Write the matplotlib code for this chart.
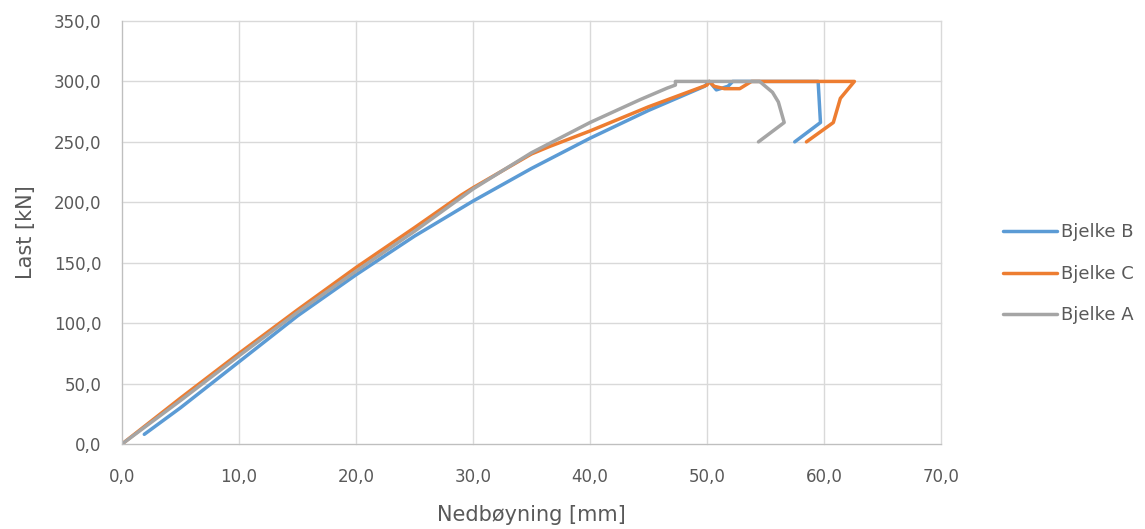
import matplotlib
matplotlib.use("Agg")
import matplotlib.pyplot as plt
from matplotlib.ticker import FuncFormatter, MultipleLocator

# Bjelke B (blue)
b_x = [1.9, 5.0, 10.0, 15.0, 20.0, 25.0, 30.0, 35.0, 40.0, 45.0, 49.8, 50.2, 50.8, 51.8, 52.2, 59.5, 59.7, 57.5]
b_y = [8.0, 30.0, 68.0, 106.0, 140.0, 172.0, 201.0, 228.0, 253.0, 276.0, 296.0, 300.0, 293.0, 296.0, 300.0, 300.0, 266.0, 250.0]

# Bjelke C (orange)
c_x = [0.0, 5.0, 10.0, 12.5, 15.0, 20.0, 25.0, 29.0, 30.0, 35.0, 36.5, 40.0, 45.0, 50.0, 50.2, 50.6, 51.5, 52.8, 53.3, 53.8, 62.6, 62.0, 61.4, 60.8, 58.5]
c_y = [0.0, 38.0, 75.0, 93.0, 111.0, 146.0, 179.0, 206.0, 212.0, 240.0, 246.0, 259.0, 279.0, 297.0, 300.0, 296.0, 294.0, 294.0, 297.0, 300.0, 300.0, 293.0, 286.0, 266.0, 250.0]

# Bjelke A (gray)
a_x = [0.0, 5.0, 10.0, 15.0, 20.0, 25.0, 30.0, 35.0, 40.0, 44.3, 46.6, 47.3, 47.3, 54.5, 55.6, 56.1, 56.6, 54.4]
a_y = [0.0, 36.0, 73.0, 109.0, 143.0, 176.0, 211.0, 241.0, 266.0, 285.0, 294.5, 297.0, 300.0, 300.0, 291.0, 283.0, 266.0, 250.0]

series = [("Bjelke B", b_x, b_y, "#5b9bd5"),
          ("Bjelke C", c_x, c_y, "#ed7d31"),
          ("Bjelke A", a_x, a_y, "#a5a5a5")]

plt.rcParams['font.family'] = ['DejaVu Sans']
fig = plt.figure(figsize=(11.45, 5.29), dpi=100)
ax = fig.add_axes([0.1066, 0.1607, 0.7152, 0.7996])

for name, x, y, col in series:
    ax.plot(x, y, color=col, lw=2.5, label=name, solid_joinstyle='round', solid_capstyle='round')

ax.set_xlim(0, 70)
ax.set_ylim(0, 350)
ax.xaxis.set_major_locator(MultipleLocator(10))
ax.yaxis.set_major_locator(MultipleLocator(50))
fmt = FuncFormatter(lambda v, p: f"{v:.1f}".replace('.', ','))
ax.xaxis.set_major_formatter(fmt)
ax.yaxis.set_major_formatter(fmt)
ax.grid(True, color="#d9d9d9", lw=1)
ax.set_axisbelow(True)
for gl in ax.get_xgridlines() + ax.get_ygridlines():
    gl.set_clip_on(False)
for s in ['top', 'right']:
    ax.spines[s].set_visible(False)
for s in ['left', 'bottom']:
    ax.spines[s].set_color("#bfbfbf")
ax.tick_params(length=0, labelsize=12, colors="#595959")
ax.tick_params(axis='y', pad=15)
ax.tick_params(axis='x', pad=17)
ax.set_xlabel("Nedbøyning [mm]", fontsize=15, color="#595959", labelpad=14)
ax.set_ylabel("Last [kN]", fontsize=15, color="#595959", labelpad=13)

leg = ax.legend(loc='center left', bbox_to_anchor=(1.0757, 0.402), frameon=False,
                fontsize=13, labelspacing=1.3, handlelength=3.0, handletextpad=0.22,
                borderpad=0, borderaxespad=0)
for t in leg.get_texts():
    t.set_color("#595959")

fig.savefig("out.png", dpi=100)
